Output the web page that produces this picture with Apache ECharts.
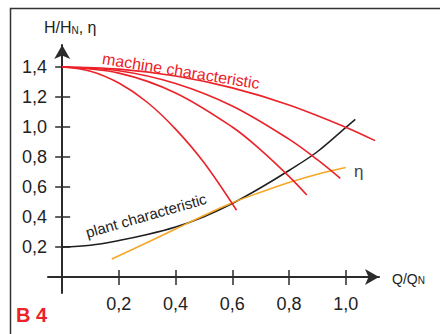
<!DOCTYPE html>
<html><head><meta charset="utf-8">
<script src="https://cdn.jsdelivr.net/npm/echarts@6/dist/echarts.min.js"></script>
<style>html,body{margin:0;padding:0;background:#fff}#c{width:440px;height:334px}</style>
</head><body><div id="c"></div>
<script>
// ---- data ----
const xTicks = [0.2, 0.4, 0.6, 0.8, 1.0];
const yTicks = [0.2, 0.4, 0.6, 0.8, 1.0, 1.2, 1.4];

// machine characteristics (Q/QN, H/HN)
const m1Q = [0, 0.2, 0.4, 0.6, 0.8, 1.0, 1.104];
const m1H = [1.40, 1.386, 1.34, 1.261, 1.147, 0.999, 0.909];
const m2Q = [0, 0.2, 0.4, 0.6, 0.8, 0.9, 0.981];
const m2H = [1.40, 1.375, 1.29, 1.14, 0.919, 0.782, 0.658];
const m3Q = [0, 0.2, 0.4, 0.6, 0.7, 0.8, 0.863];
const m3H = [1.40, 1.359, 1.227, 1.0, 0.848, 0.671, 0.547];
const m4Q = [0, 0.1, 0.2, 0.3, 0.4, 0.5, 0.615];
const m4H = [1.40, 1.372, 1.293, 1.165, 0.986, 0.763, 0.445];
// plant characteristic
const plantQ = [0, 0.1, 0.2, 0.3, 0.4, 0.5, 0.6, 0.7, 0.8, 0.9, 1.0, 1.034];
const plantH = [0.2, 0.212, 0.243, 0.283, 0.333, 0.402, 0.49, 0.595, 0.71, 0.835, 0.996, 1.051];
// efficiency eta
const etaQ = [0.175, 0.3, 0.4, 0.5, 0.6, 0.7, 0.8, 0.9, 1.0];
const etaH = [0.12, 0.23, 0.32, 0.41, 0.495, 0.565, 0.63, 0.685, 0.73];

// ---- styling ----
const FONT = '"Liberation Sans", Arial, Helvetica, sans-serif';
const AX = '#2b2b2b';
const RED = '#ec2229';
const ORANGE = '#f5a623';
const X_MIN = -0.05, X_MAX = 1.1176;
const Y_MIN = -0.10667, Y_MAX = 1.54667;
const fmt = v => v.toFixed(1).replace('.', ',');
const pairs = (q, h) => q.map((v, i) => [v, h[i]]);

function lineSeries(name, q, h, color, width) {
  return {
    name: name, type: 'line', xAxisIndex: 0, yAxisIndex: 0,
    data: pairs(q, h), showSymbol: false, symbol: 'none',
    smooth: 0.35, clip: false,
    lineStyle: { color: color, width: width }, silent: true
  };
}

const chart = echarts.init(document.getElementById('c'), null, { renderer: 'svg' });
chart.setOption({
  animation: false,
  backgroundColor: '#ffffff',
  textStyle: { fontFamily: FONT },
  grid: { left: 48, right: 61, top: 45, bottom: 41, containLabel: false, outerBoundsMode: 'none' },
  xAxis: [
    {
      type: 'value', min: X_MIN, max: X_MAX, position: 'bottom',
      axisLine: { show: true, onZero: true, onZeroAxisIndex: 0, symbol: ['none', 'arrow'], symbolSize: [12, 14],
                  lineStyle: { color: AX, width: 2 } },
      axisTick: { show: true, length: 8, customValues: xTicks, lineStyle: { color: AX, width: 1.5 } },
      axisLabel: { show: true, customValues: xTicks, formatter: fmt, margin: 2, fontSize: 18, color: '#222', fontFamily: FONT },
      splitLine: { show: false },
      name: '{a|Q/Q}{b|N}', nameLocation: 'end', nameGap: 13,
      nameTextStyle: { padding: [4, 0, 0, 0], rich: {
        a: { fontSize: 14, color: '#222', fontFamily: FONT, verticalAlign: 'bottom' },
        b: { fontSize: 10, color: '#222', fontFamily: FONT, verticalAlign: 'bottom' } } }
    },
    {
      type: 'value', min: X_MIN, max: X_MAX, position: 'top',
      axisLine: { show: false, onZero: true, onZeroAxisIndex: 0 },
      axisTick: { show: true, length: 7, customValues: xTicks, lineStyle: { color: AX, width: 1.5 } },
      axisLabel: { show: false }, splitLine: { show: false }
    }
  ],
  yAxis: [
    {
      type: 'value', min: Y_MIN, max: Y_MAX, position: 'left',
      axisLine: { show: true, onZero: true, onZeroAxisIndex: 0, symbol: ['none', 'arrow'], symbolSize: [12, 14],
                  lineStyle: { color: AX, width: 2 } },
      axisTick: { show: true, length: 7, customValues: yTicks, lineStyle: { color: AX, width: 1.5 } },
      axisLabel: { show: true, customValues: yTicks, formatter: fmt, margin: 1, fontSize: 18, color: '#222', fontFamily: FONT },
      splitLine: { show: false },
      name: '{a|H/H}{b|N}{a|, η}', nameLocation: 'end', nameGap: 10,
      nameTextStyle: { align: 'center', padding: [0, 0, 0, 16], rich: {
        a: { fontSize: 16, color: '#222', fontFamily: FONT, verticalAlign: 'bottom' },
        b: { fontSize: 10, color: '#222', fontFamily: FONT, verticalAlign: 'bottom' } } }
    },
    {
      type: 'value', min: Y_MIN, max: Y_MAX, position: 'right',
      axisLine: { show: false, onZero: true, onZeroAxisIndex: 0 },
      axisTick: { show: true, length: 8, customValues: yTicks, lineStyle: { color: AX, width: 1.5 } },
      axisLabel: { show: false }, splitLine: { show: false }
    }
  ],
  series: [
    lineSeries('plant', plantQ, plantH, '#1e1e1e', 1.5),
    lineSeries('eta', etaQ, etaH, ORANGE, 1.5),
    lineSeries('m1', m1Q, m1H, RED, 1.6),
    lineSeries('m2', m2Q, m2H, RED, 1.6),
    lineSeries('m3', m3Q, m3H, RED, 1.6),
    lineSeries('m4', m4Q, m4H, RED, 1.6)
  ],
  graphic: [
    { type: 'rect', left: 8, top: 6, silent: true, z: -1,
      shape: { width: 520, height: 420 }, style: { fill: 'none', stroke: '#333', lineWidth: 1.5 } },
    { type: 'text', x: 181, y: 71, rotation: -0.159, silent: true,
      style: { text: 'machine characteristic', font: '16px ' + FONT, fill: RED, align: 'center', verticalAlign: 'middle' } },
    { type: 'text', x: 146, y: 215.5, rotation: 0.28, silent: true,
      style: { text: 'plant characteristic', font: '15px ' + FONT, fill: '#222', align: 'center', verticalAlign: 'middle' } },
    { type: 'text', x: 354, y: 171, silent: true,
      style: { text: 'η', font: '17px ' + FONT, fill: '#444', align: 'left', verticalAlign: 'middle' } },
    { type: 'text', x: 16, y: 315, silent: true,
      style: { text: 'B 4', font: 'bold 20px ' + FONT, fill: RED, align: 'left', verticalAlign: 'middle' } }
  ]
});
</script></body></html>
